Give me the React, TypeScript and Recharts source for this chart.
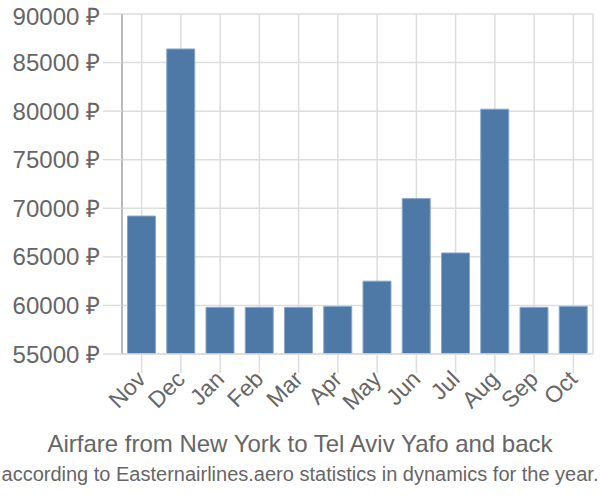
import React from 'react'
import { BarChart, Bar, XAxis, YAxis, CartesianGrid } from 'recharts'

const months = ['Nov', 'Dec', 'Jan', 'Feb', 'Mar', 'Apr', 'May', 'Jun', 'Jul', 'Aug', 'Sep', 'Oct']
const prices = [69200, 86400, 59800, 59800, 59800, 59900, 62500, 71000, 65400, 80200, 59800, 59900]
const yTicks = [55000, 60000, 65000, 70000, 75000, 80000, 85000, 90000]

const data = months.map((m, i) => ({ month: m, price: prices[i] }))

const textColor = '#666666'
const gridColor = '#dddddd'

// rotated month label, text ends near the tick
function MonthTick(props: any) {
  const { x, y, payload } = props
  return (
    <g transform={`translate(${x + 5.5},${y + 7.5}) rotate(-45)`}>
      <text x={0} y={0} textAnchor="end" fill={textColor} fontSize={23}>
        {payload.value}
      </text>
    </g>
  )
}

export default function App() {
  return (
    <div style={{ position: 'absolute', left: 0, top: 0, width: 600, height: 500, background: '#fff', fontFamily: '"Liberation Sans", Arial, sans-serif' }}>
      <BarChart
        width={600}
        height={500}
        data={data}
        margin={{ top: 14, right: 7, bottom: 56, left: 0 }}
        barCategoryGap="14%"
      >
        <CartesianGrid stroke={gridColor} strokeWidth={1.5} />
        <XAxis
          dataKey="month"
          height={90}
          interval={0}
          tickSize={19}
          tickMargin={0}
          tickLine={{ stroke: gridColor, strokeWidth: 1.5 }}
          axisLine={{ stroke: gridColor, strokeWidth: 1.5 }}
          tick={<MonthTick />}
        />
        <YAxis
          domain={[55000, 90000]}
          ticks={yTicks}
          width={122}
          tickSize={19}
          tickMargin={3}
          tickLine={{ stroke: gridColor, strokeWidth: 1.5 }}
          axisLine={{ stroke: '#aaaaaa', strokeWidth: 1.5 }}
          tick={{ fill: textColor, fontSize: 24 }}
          tickFormatter={(v) => `${v} ₽`}
          allowDataOverflow
        />
        <Bar dataKey="price" fill="#4e79a7" stroke="#8aa7c6" strokeWidth={1} isAnimationActive={false} />
      </BarChart>
      <div style={{ position: 'absolute', left: 0, top: 430, width: 600, textAlign: 'center', color: textColor, fontSize: 24, lineHeight: '28px', whiteSpace: 'nowrap' }}>
        Airfare from New York to Tel Aviv Yafo and back
      </div>
      <div style={{ position: 'absolute', left: 0, top: 461, width: 600, textAlign: 'center', color: textColor, fontSize: 20, lineHeight: '26px', whiteSpace: 'nowrap' }}>
        according to Easternairlines.aero statistics in dynamics for the year.
      </div>
    </div>
  )
}
